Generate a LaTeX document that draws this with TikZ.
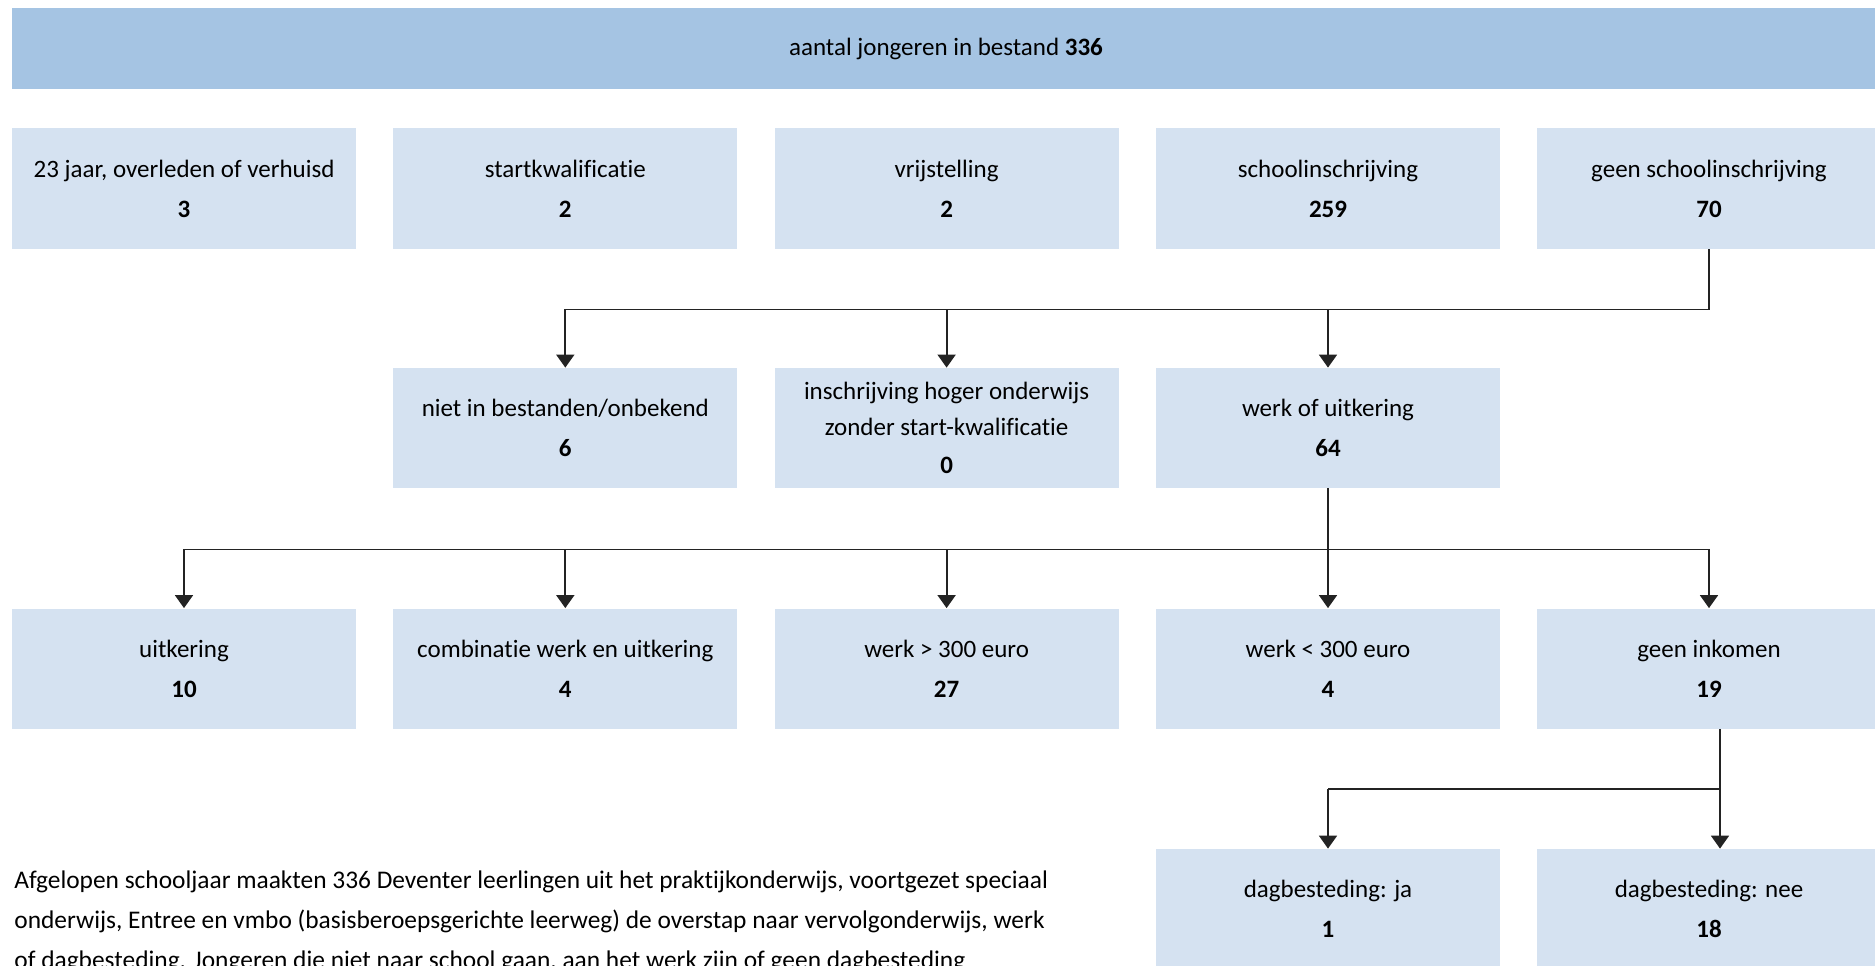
\documentclass[tikz,border=0pt]{standalone}
\usepackage{fontspec}
\setmainfont{Carlito}[Ligatures={NoCommon}]
\usetikzlibrary{arrows.meta}
\definecolor{barc}{RGB}{165,196,227}
\definecolor{boxc}{RGB}{213,226,241}
\definecolor{linec}{RGB}{35,35,35}
\newcommand{\dfont}{\fontsize{12.5}{18}\selectfont}
\newcommand{\pfont}{\fontsize{12.7}{18}\selectfont}
\tikzset{
  bar/.style={fill=barc, minimum width=934pt, minimum height=40.5pt, inner sep=0pt, font=\dfont},
  box/.style={fill=boxc, minimum width=172pt, minimum height=60pt, inner sep=0pt, align=center, font=\dfont},
  conn/.style={draw=linec, line width=0.9pt},
  arr/.style={conn, -{Triangle[width=9pt,length=6.5pt]}},
  para/.style={anchor=base west, inner sep=0pt, font=\pfont}
}
\begin{document}
\begin{tikzpicture}[x=0.5pt,y=-0.5pt]
\useasboundingbox (0,0) rectangle (1875,965);
\clip (0,0) rectangle (1875,965);

\node[bar] (top) at (946,48.5) {aantal jongeren in bestand \textbf{336}};

% row 1
\node[box, minimum height=60.5pt] (ovl) at (184,188.5) {23 jaar, overleden of verhuisd\\[2pt]\textbf{3}};
\node[box, minimum height=60.5pt] (skw) at (565.3,188.5) {startkwalificatie\\[2pt]\textbf{2}};
\node[box, minimum height=60.5pt] (vrij) at (946.6,188.5) {vrijstelling\\[2pt]\textbf{2}};
\node[box, minimum height=60.5pt] (sch) at (1328,188.5) {schoolinschrijving\\[2pt]\textbf{259}};
\node[box, minimum height=60.5pt] (gsch) at (1709,188.5) {geen schoolinschrijving\\[2pt]\textbf{70}};

% row 2
\node[box] (niet) at (565.3,428) {niet in bestanden/onbekend\\[2pt]\textbf{6}};
\node[box] (hoger) at (946.6,428) {inschrijving hoger onderwijs\\zonder start-kwalificatie\\[1pt]\textbf{0}};
\node[box] (werk) at (1328,428) {werk of uitkering\\[2pt]\textbf{64}};

% row 3
\node[box] (uitk) at (184,668.5) {uitkering\\[2pt]\textbf{10}};
\node[box] (comb) at (565.3,668.5) {combinatie werk en uitkering\\[2pt]\textbf{4}};
\node[box] (w300) at (946.6,668.5) {werk > 300 euro\\[2pt]\textbf{27}};
\node[box] (wk300) at (1328,668.5) {werk < 300 euro\\[2pt]\textbf{4}};
\node[box] (geen) at (1709,668.5) {geen inkomen\\[2pt]\textbf{19}};

% row 4
\node[box] (ja) at (1328,909) {dagbesteding: ja\\[2pt]\textbf{1}};
\node[box] (nee) at (1709,909) {dagbesteding: nee\\[2pt]\textbf{18}};

% connectors
\draw[conn] (gsch.south) -- ++(0,60) coordinate (j1) -- (j1 -| niet.north);
\draw[arr] (j1 -| niet.north) -- (niet.north);
\draw[arr] (j1 -| hoger.north) -- (hoger.north);
\draw[arr] (j1 -| werk.north) -- (werk.north);

\draw[conn] (werk.south) -- ++(0,61) coordinate (j2);
\draw[conn] (j2 -| uitk.north) -- (j2 -| geen.north);
\draw[arr] (j2 -| uitk.north) -- (uitk.north);
\draw[arr] (j2 -| comb.north) -- (comb.north);
\draw[arr] (j2 -| w300.north) -- (w300.north);
\draw[arr] (j2 -| wk300.north) -- (wk300.north);
\draw[arr] (j2 -| geen.north) -- (geen.north);

\coordinate (k0) at ([xshift=5.5pt]geen.south);
\draw[conn] (k0) -- ++(0,60) coordinate (j3) -- (j3 -| ja.north);
\draw[arr] (j3 -| ja.north) -- (ja.north);
\draw[arr] (j3) -- (j3 |- nee.north);

% paragraph
\node[para] (p1) at (14,888) {Afgelopen schooljaar maakten 336 Deventer leerlingen uit het praktijkonderwijs, voortgezet speciaal};
\node[para] (p2) at (14,928) {onderwijs, Entree en vmbo (basisberoepsgerichte leerweg) de overstap naar vervolgonderwijs, werk};
\node[para] (p3) at (14,968) {of dagbesteding. Jongeren die niet naar school gaan, aan het werk zijn of geen dagbesteding};
\end{tikzpicture}
\end{document}
